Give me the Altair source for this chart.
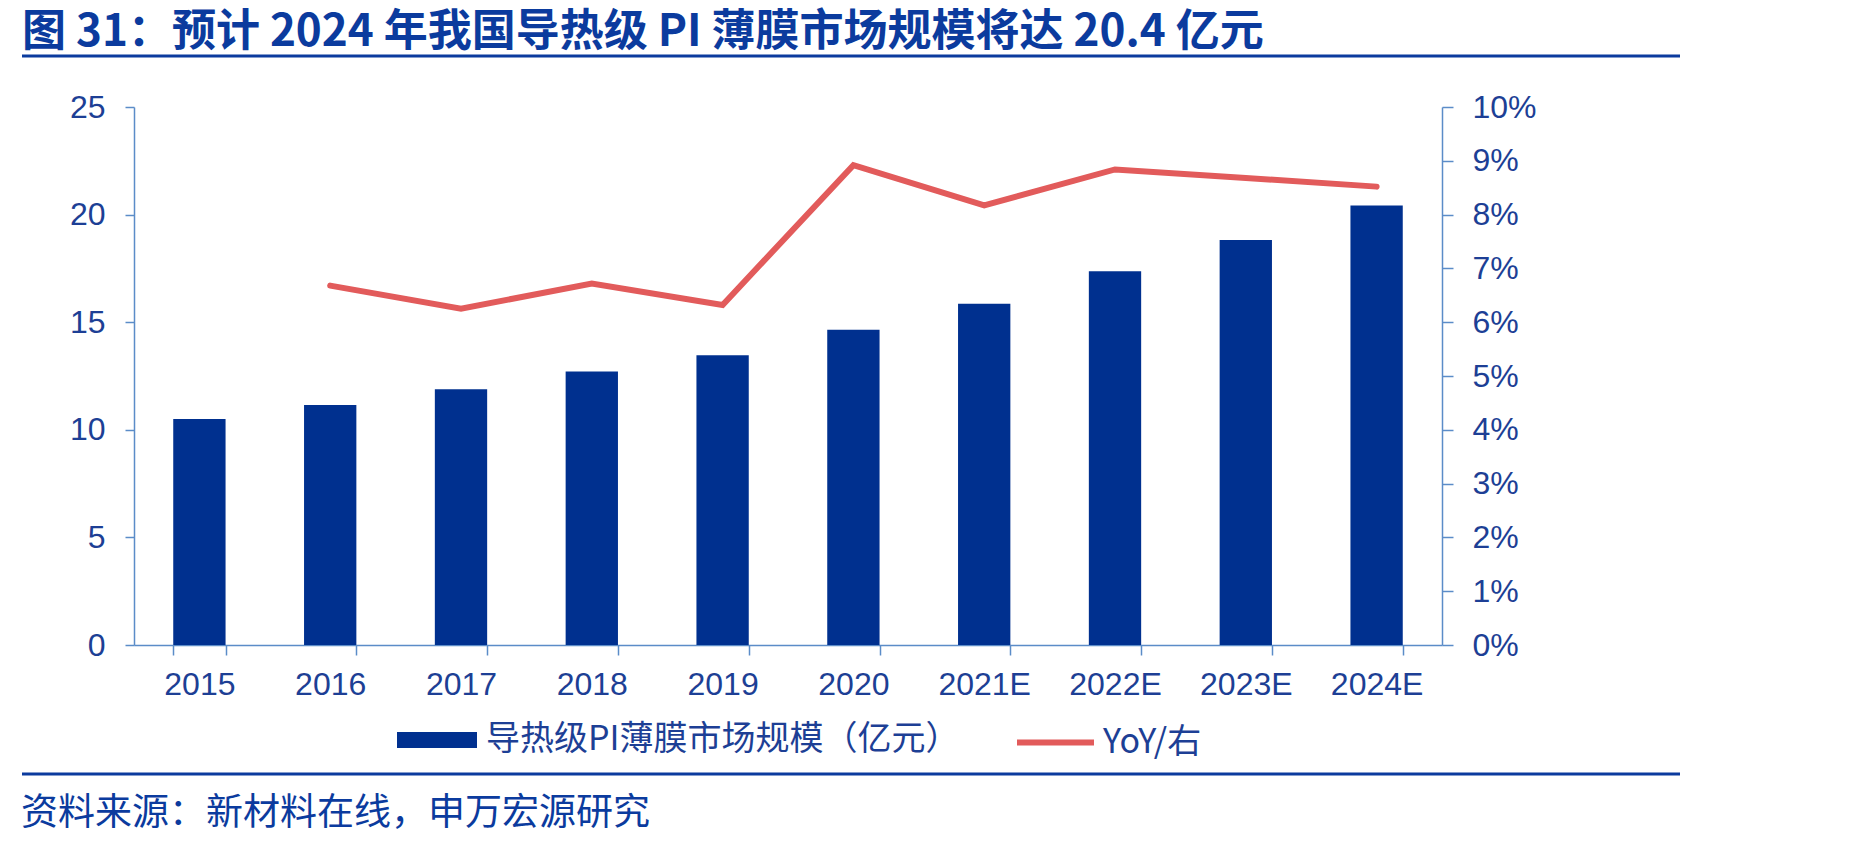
import altair as alt
import pandas as pd

# ---- data ----
years = ["2015", "2016", "2017", "2018", "2019", "2020", "2021E", "2022E", "2023E", "2024E"]
market_size = [10.5, 11.15, 11.88, 12.71, 13.46, 14.65, 15.86, 17.37, 18.82, 20.42]
yoy = [None, 0.0668, 0.0625, 0.0672, 0.0632, 0.0892, 0.0817, 0.0884, 0.0868, 0.0852]

bar_label = "导热级PI薄膜市场规模（亿元）"
line_label = "YoY/右"
title_text = "图 31：预计 2024 年我国导热级 PI 薄膜市场规模将达 20.4 亿元"
source_text = "资料来源：新材料在线，申万宏源研究"

left_ticks = [0, 5, 10, 15, 20, 25]
right_ticks = [0, 0.01, 0.02, 0.03, 0.04, 0.05, 0.06, 0.07, 0.08, 0.09, 0.10]

# ---- style ----
NAVY = "#00308F"
RED = "#E25B5B"
AXIS = "#5B8CC8"
LABEL = "#1D3F95"
TITLE = "#0B3B9E"
LATIN = "Liberation Sans"
CJK = "Noto Sans CJK SC"

W, H = 1308, 538
PAD_L, PAD_T = 134, 107

df = pd.DataFrame({"year": years, "size": market_size, "yoy": yoy,
                   "s1": [bar_label] * len(years), "s2": [line_label] * len(years)})

xenc = alt.X("year:O", sort=years, title=None,
             scale=alt.Scale(paddingInner=0.6, paddingOuter=0.3),
             axis=alt.Axis(labelAngle=0, labelFont=LATIN, labelFontSize=32, labelColor=LABEL,
                           domainColor=AXIS, domainWidth=1.5, tickColor=AXIS, tickWidth=1.5,
                           tickSize=10, tickBand="extent", labelPadding=14))

bars = alt.Chart(df).mark_bar().encode(
    x=xenc,
    y=alt.Y("size:Q", title=None,
            scale=alt.Scale(domain=[0, 25], nice=False, zero=True),
            axis=alt.Axis(orient="left", values=left_ticks, grid=False, labelFont=LATIN,
                          labelFontSize=32, labelColor=LABEL, domainColor=AXIS, domainWidth=1.5,
                          tickColor=AXIS, tickWidth=1.5, tickSize=9, labelPadding=20)),
    fill=alt.Fill("s1:N", scale=alt.Scale(domain=[bar_label], range=[NAVY]),
                  legend=alt.Legend(orient="none", legendX=263, legendY=593, title=None,
                                    symbolType="M-1,-0.2L1,-0.2L1,0.2L-1,0.2Z", symbolSize=6400,
                                    symbolStrokeWidth=0, symbolOpacity=1, labelFont=CJK,
                                    labelFontSize=34, labelColor=LABEL, labelOffset=9,
                                    padding=0, labelLimit=1000)),
)

line = alt.Chart(df).mark_line(strokeWidth=6, strokeCap="round", strokeJoin="miter").encode(
    x=alt.X("year:O", sort=years),
    y=alt.Y("yoy:Q", title=None,
            scale=alt.Scale(domain=[0, 0.10], nice=False, zero=True),
            axis=alt.Axis(orient="right", values=right_ticks, format=".0%", grid=False,
                          labelFont=LATIN, labelFontSize=32, labelColor=LABEL, domainColor=AXIS,
                          domainWidth=1.5, tickColor=AXIS, tickWidth=1.5, tickSize=11,
                          labelPadding=19)),
    stroke=alt.Stroke("s2:N", scale=alt.Scale(domain=[line_label], range=[RED]),
                      legend=alt.Legend(orient="none", legendX=880, legendY=594, title=None,
                                        symbolType="stroke", symbolSize=5929,
                                        symbolStrokeWidth=6, labelFont=CJK, labelFontSize=34,
                                        labelColor=LABEL, labelOffset=6, padding=0,
                                        labelLimit=1000)),
)

title_df = pd.DataFrame({"t": [title_text]})
source_df = pd.DataFrame({"t": [source_text]})

title = alt.Chart(title_df).mark_text(align="left", baseline="middle", font=CJK, fontSize=44,
                                      fontWeight="bold", color=TITLE).encode(
    text="t:N", x=alt.value(22 - PAD_L), y=alt.value(33 - PAD_T))

source = alt.Chart(source_df).mark_text(align="left", baseline="middle", font=CJK, fontSize=37,
                                        color=TITLE).encode(
    text="t:N", x=alt.value(21 - PAD_L), y=alt.value(814 - PAD_T))

rule_top = alt.Chart(title_df).mark_rule(color=TITLE, strokeWidth=3).encode(
    x=alt.value(22 - PAD_L), x2=alt.value(1680 - PAD_L), y=alt.value(56 - PAD_T))
rule_bottom = alt.Chart(title_df).mark_rule(color=TITLE, strokeWidth=3).encode(
    x=alt.value(22 - PAD_L), x2=alt.value(1680 - PAD_L), y=alt.value(774 - PAD_T))

chart = alt.layer(bars, line, title, source, rule_top, rule_bottom).resolve_scale(
    y="independent"
).properties(
    width=W, height=H,
    autosize=alt.AutoSizeParams(type="none"),
    padding={"left": PAD_L, "top": PAD_T, "right": 1849 - PAD_L - W, "bottom": 853 - PAD_T - H},
    background="white",
).configure_view(stroke=None)

chart.save("out.html", embed_options={"renderer": "svg", "actions": False})
